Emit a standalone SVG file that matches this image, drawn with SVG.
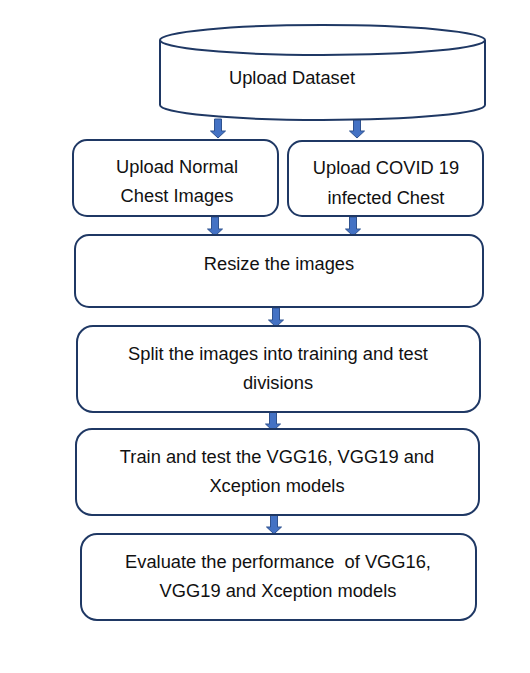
<svg xmlns="http://www.w3.org/2000/svg" width="530" height="673" viewBox="0 0 530 673">
<defs>
<style>
.box{fill:#fff;stroke:#1f3864;stroke-width:2}
.t{font-family:"Liberation Sans",Arial,sans-serif;font-size:18.3px;fill:#111;text-anchor:middle;white-space:pre}
.arr{fill:#4472c4;stroke:#2f528f;stroke-width:1}
</style>
<path id="a" d="M-3.5,0 h7 v12 h4 l-7.5,7 l-7.5,-7 h4 z"/>
</defs>
<rect width="530" height="673" fill="#fff"/>
<g id="connectors">
<use href="#a" class="arr" x="218" y="119"/>
<use href="#a" class="arr" x="357" y="119"/>
<use href="#a" class="arr" x="215" y="217"/>
<use href="#a" class="arr" x="353" y="217"/>
<use href="#a" class="arr" x="276" y="308"/>
<use href="#a" class="arr" x="273" y="412"/>
<use href="#a" class="arr" x="274" y="515"/>
</g>
<g id="upload-dataset">
<path class="box" d="M160,40 A162.5,15 0 0 1 485,40 V105 A162.5,15 0 0 1 160,105 Z"/>
<path class="box" fill="none" d="M160,40 A162.5,15 0 0 0 485,40"/>
<text class="t" x="292" y="84">Upload Dataset</text>
</g>
<g id="upload-normal">
<rect class="box" x="73" y="140" width="205" height="76" rx="14"/>
<text class="t" x="177" y="173">Upload Normal</text>
<text class="t" x="177" y="202">Chest Images</text>
</g>
<g id="upload-covid">
<rect class="box" x="288" y="141" width="195" height="75" rx="14"/>
<text class="t" x="386" y="174">Upload COVID 19</text>
<text class="t" x="386" y="204">infected Chest</text>
</g>
<g id="resize">
<rect class="box" x="75" y="235" width="408" height="72" rx="14"/>
<text class="t" x="279" y="270">Resize the images</text>
</g>
<g id="split">
<rect class="box" x="77" y="326" width="403" height="86" rx="16"/>
<text class="t" x="278" y="360">Split the images into training and test</text>
<text class="t" x="278" y="389">divisions</text>
</g>
<g id="train">
<rect class="box" x="76" y="429" width="403" height="86" rx="16"/>
<text class="t" x="277" y="463">Train and test the VGG16, VGG19 and</text>
<text class="t" x="277" y="492">Xception models</text>
</g>
<g id="evaluate">
<rect class="box" x="81" y="534" width="395" height="86" rx="16"/>
<text class="t" x="278" y="568">Evaluate the performance  of VGG16,</text>
<text class="t" x="278" y="597">VGG19 and Xception models</text>
</g>
</svg>
